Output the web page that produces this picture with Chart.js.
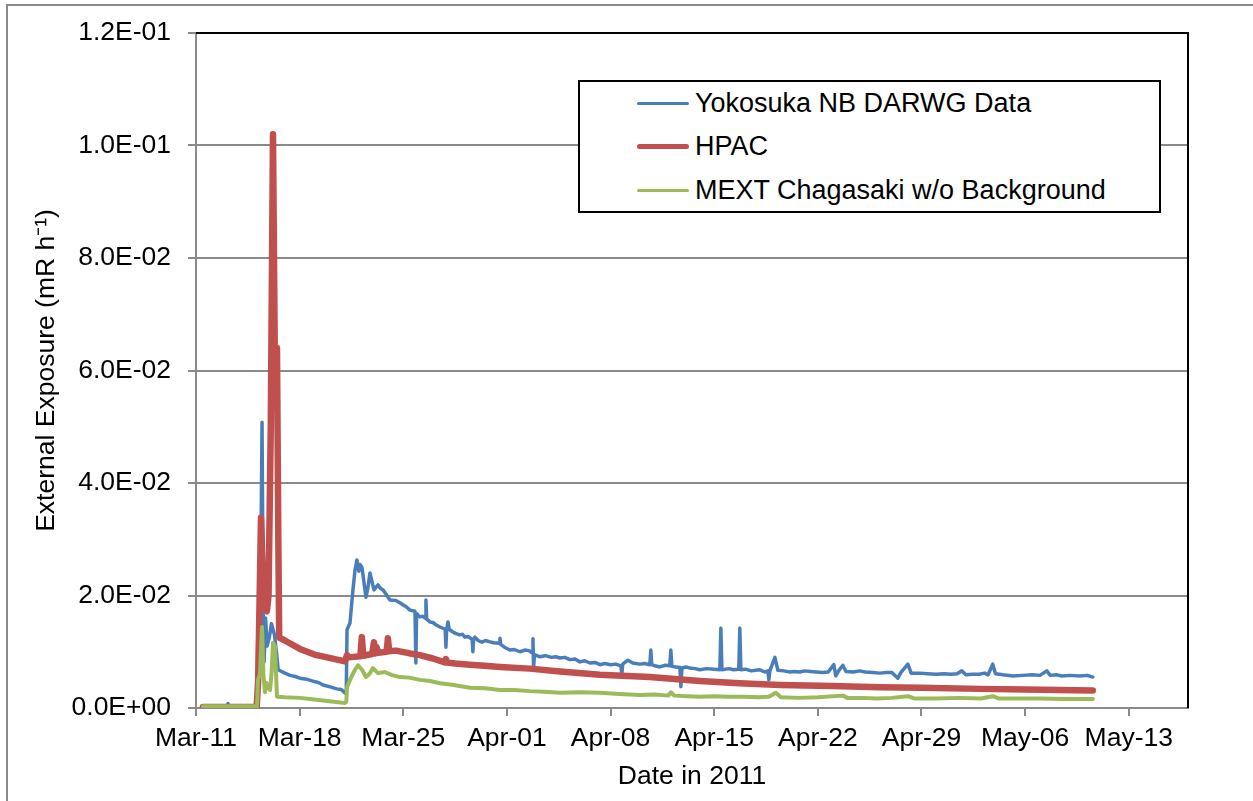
<!DOCTYPE html>
<html><head><meta charset="utf-8">
<script src="https://cdn.jsdelivr.net/npm/chart.js@4.4.1/dist/chart.umd.min.js"></script>
<style>
html,body{margin:0;padding:0;background:#fff;overflow:hidden;}
#wrap{position:relative;width:1253px;height:801px;overflow:hidden;}
#frame{position:absolute;left:6px;top:4px;width:1300px;height:850px;border:2px solid #8a8a8a;box-sizing:border-box;pointer-events:none;}
canvas{position:absolute;left:0;top:0;}
#legend{position:absolute;left:578px;top:80px;width:583px;height:133px;border:2px solid #000;background:#fff;box-sizing:border-box;font-family:"Liberation Sans",Arial,sans-serif;font-size:27px;color:#000;}
.item{position:absolute;left:57px;height:32px;display:flex;align-items:center;white-space:nowrap;}
.sw{width:52px;border-radius:3px;margin-right:6px;}
</style></head>
<body>
<div id="wrap">
<canvas id="c" width="1253" height="801"></canvas>
<div id="frame"></div>
<div id="legend"></div>
</div>
<script>
// ---- Data (x = days since Mar-11-2011 00:00, y = mR/h) ----
const seriesNames = ['Yokosuka NB DARWG Data', 'HPAC', 'MEXT Chagasaki w/o Background'];
const seriesColors = ['#4a7ebb', '#c0504d', '#9bbb59'];
const xTickDays = [0, 7, 14, 21, 28, 35, 42, 49, 56, 63];
const xTickLabels = ['Mar-11', 'Mar-18', 'Mar-25', 'Apr-01', 'Apr-08', 'Apr-15', 'Apr-22', 'Apr-29', 'May-06', 'May-13'];
const yTickValues = [0, 0.02, 0.04, 0.06, 0.08, 0.10, 0.12];
const yTickLabels = ['0.0E+00', '2.0E-02', '4.0E-02', '6.0E-02', '8.0E-02', '1.0E-01', '1.2E-01'];

const yokosuka = [[0.47,0.0003],[2.10,0.0003],[2.16,0.0008],[2.22,0.0003],[4.10,0.0003],[4.19,0.0156],[4.35,0.0170],[4.46,0.0508],[4.55,0.0120],[4.60,0.0082],[4.70,0.0160],[4.80,0.0110],[4.95,0.0125],[5.10,0.0150],[5.30,0.0130],[5.45,0.0095],[5.55,0.0068],[6.00,0.0062],[6.35,0.0058],[6.70,0.0056],[7.02,0.0053],[7.50,0.0051],[8.00,0.0047],[8.30,0.0045],[8.58,0.0041],[9.00,0.0038],[9.50,0.0034],[9.80,0.0033],[10.06,0.0027],[10.15,0.0030],[10.20,0.0139],[10.40,0.0151],[10.60,0.0210],[10.74,0.0245],[10.87,0.0263],[11.00,0.0243],[11.07,0.0255],[11.21,0.0250],[11.48,0.0197],[11.60,0.0212],[11.75,0.0240],[12.02,0.0210],[12.29,0.0219],[12.45,0.0213],[12.63,0.0210],[12.90,0.0200],[13.10,0.0192],[13.50,0.0191],[13.77,0.0187],[14.00,0.0183],[14.20,0.0180],[14.45,0.0174],[14.79,0.0172],[14.85,0.0080],[14.90,0.0168],[15.12,0.0162],[15.30,0.0163],[15.48,0.0160],[15.53,0.0192],[15.58,0.0158],[15.80,0.0153],[16.00,0.0152],[16.20,0.0148],[16.48,0.0144],[16.83,0.0140],[16.88,0.0108],[16.93,0.0140],[17.02,0.0153],[17.10,0.0140],[17.30,0.0136],[17.49,0.0133],[17.80,0.0130],[18.00,0.0131],[18.16,0.0126],[18.40,0.0127],[18.65,0.0122],[18.70,0.0100],[18.75,0.0122],[18.84,0.0126],[19.05,0.0120],[19.31,0.0117],[19.55,0.0120],[19.80,0.0118],[20.10,0.0116],[20.48,0.0115],[20.53,0.0124],[20.58,0.0113],[20.90,0.0107],[21.20,0.0103],[21.50,0.0104],[21.88,0.0100],[22.20,0.0103],[22.50,0.0102],[22.70,0.0098],[22.76,0.0123],[22.80,0.0071],[22.86,0.0095],[23.23,0.0091],[23.60,0.0093],[24.00,0.0090],[24.30,0.0091],[24.58,0.0089],[24.90,0.0090],[25.25,0.0086],[25.60,0.0087],[25.93,0.0082],[26.25,0.0084],[26.60,0.0080],[26.95,0.0081],[27.28,0.0077],[27.60,0.0079],[28.00,0.0077],[28.35,0.0078],[28.70,0.0075],[28.76,0.0059],[28.82,0.0078],[29.17,0.0085],[29.50,0.0080],[29.98,0.0078],[30.30,0.0079],[30.65,0.0077],[30.72,0.0103],[30.78,0.0077],[31.00,0.0075],[31.33,0.0073],[31.70,0.0076],[32.00,0.0075],[32.07,0.0103],[32.14,0.0074],[32.40,0.0073],[32.68,0.0072],[32.75,0.0038],[32.82,0.0071],[33.10,0.0073],[33.36,0.0071],[33.70,0.0070],[34.03,0.0068],[34.50,0.0070],[35.00,0.0069],[35.38,0.0068],[35.45,0.0142],[35.52,0.0068],[36.00,0.0070],[36.30,0.0068],[36.66,0.0069],[36.73,0.0142],[36.80,0.0068],[37.10,0.0069],[37.50,0.0066],[37.80,0.0067],[38.08,0.0068],[38.40,0.0064],[38.62,0.0066],[38.69,0.0050],[38.76,0.0066],[39.10,0.0090],[39.30,0.0067],[39.70,0.0066],[40.11,0.0064],[40.40,0.0065],[40.78,0.0064],[41.10,0.0066],[41.50,0.0065],[41.90,0.0064],[42.30,0.0063],[42.70,0.0064],[43.08,0.0077],[43.21,0.0057],[43.40,0.0066],[43.69,0.0076],[43.90,0.0065],[44.40,0.0064],[44.83,0.0066],[45.20,0.0064],[45.70,0.0063],[46.19,0.0062],[46.60,0.0063],[47.00,0.0063],[47.40,0.0053],[47.60,0.0063],[48.08,0.0078],[48.30,0.0062],[48.89,0.0062],[49.40,0.0061],[50.00,0.0060],[50.50,0.0061],[51.00,0.0060],[51.40,0.0061],[51.72,0.0066],[52.00,0.0059],[52.46,0.0060],[52.90,0.0060],[53.27,0.0062],[53.50,0.0059],[53.81,0.0078],[54.00,0.0061],[54.50,0.0059],[55.17,0.0057],[55.80,0.0058],[56.50,0.0059],[57.00,0.0058],[57.46,0.0066],[57.70,0.0058],[58.10,0.0059],[58.50,0.0057],[59.00,0.0058],[59.69,0.0057],[60.20,0.0058],[60.57,0.0055]];

const hpac = [[0.47,0.0002],[4.10,0.0002],[4.20,0.0050],[4.39,0.0338],[4.50,0.0250],[4.65,0.0180],[4.79,0.0172],[4.90,0.0200],[5.05,0.0500],[5.20,0.1020],[5.33,0.0600],[5.47,0.0640],[5.56,0.0300],[5.62,0.0125],[6.00,0.0120],[7.02,0.0105],[8.00,0.0095],[9.00,0.0089],[10.06,0.0083],[10.20,0.0094],[10.30,0.0090],[11.10,0.0092],[11.20,0.0126],[11.30,0.0093],[11.90,0.0096],[12.02,0.0117],[12.12,0.0097],[12.20,0.0108],[12.30,0.0098],[12.88,0.0100],[12.96,0.0124],[13.05,0.0101],[13.50,0.0102],[14.45,0.0097],[15.12,0.0094],[16.00,0.0088],[16.81,0.0081],[16.88,0.0087],[16.95,0.0081],[17.50,0.0079],[18.50,0.0077],[19.50,0.0075],[20.53,0.0073],[22.55,0.0070],[24.58,0.0065],[27.28,0.0059],[30.65,0.0055],[34.03,0.0048],[36.70,0.0044],[39.43,0.0041],[43.00,0.0039],[46.19,0.0037],[49.00,0.0036],[52.94,0.0034],[56.00,0.0033],[60.57,0.0031]];

const mext = [[0.47,0.0003],[4.12,0.0003],[4.19,0.0050],[4.32,0.0060],[4.46,0.0144],[4.55,0.0060],[4.66,0.0028],[4.75,0.0045],[4.86,0.0036],[5.00,0.0032],[5.10,0.0060],[5.20,0.0116],[5.33,0.0110],[5.47,0.0020],[6.00,0.0019],[7.02,0.0018],[8.00,0.0015],[9.00,0.0012],[10.06,0.0009],[10.15,0.0011],[10.20,0.0037],[10.40,0.0050],[10.74,0.0068],[10.94,0.0076],[11.21,0.0068],[11.48,0.0055],[11.70,0.0060],[11.95,0.0071],[12.29,0.0062],[12.76,0.0064],[13.20,0.0059],[13.77,0.0055],[14.40,0.0054],[15.12,0.0050],[15.80,0.0048],[16.48,0.0044],[17.40,0.0041],[18.50,0.0036],[19.50,0.0035],[20.53,0.0032],[21.50,0.0032],[22.55,0.0030],[23.50,0.0029],[24.58,0.0027],[25.90,0.0028],[27.28,0.0027],[28.60,0.0025],[29.98,0.0023],[31.00,0.0024],[31.90,0.0022],[32.07,0.0028],[32.30,0.0022],[33.20,0.0021],[34.03,0.0020],[35.00,0.0021],[36.00,0.0020],[37.00,0.0020],[38.00,0.0019],[38.70,0.0020],[39.16,0.0027],[39.50,0.0019],[40.78,0.0018],[42.00,0.0019],[43.69,0.0022],[44.00,0.0018],[45.00,0.0018],[46.00,0.0017],[47.00,0.0018],[48.08,0.0021],[48.50,0.0017],[50.00,0.0017],[51.50,0.0018],[53.00,0.0017],[53.81,0.0021],[54.20,0.0017],[55.50,0.0017],[57.00,0.0017],[58.60,0.0016],[60.57,0.0016]];

const FONT = '"Liberation Sans", Arial, sans-serif';
const FS = 26.5;
const toPts = arr => arr.map(p => ({x: p[0], y: p[1]}));

const plotFrame = {
  id: 'plotFrame',
  afterDraw(chart) {
    const {ctx, chartArea: a} = chart;
    ctx.save();
    ctx.strokeStyle = '#000';
    ctx.lineWidth = 2;
    ctx.beginPath();
    ctx.moveTo(a.left, a.top);
    ctx.lineTo(a.right, a.top);
    ctx.lineTo(a.right, a.bottom);
    ctx.stroke();
    ctx.restore();
  }
};

new Chart(document.getElementById('c'), {
  type: 'line',
  data: {
    datasets: [
      {label: seriesNames[0], data: toPts(yokosuka), borderColor: seriesColors[0], borderWidth: 3.5, order: 2},
      {label: seriesNames[1], data: toPts(hpac), borderColor: seriesColors[1], borderWidth: 6.5, order: 1},
      {label: seriesNames[2], data: toPts(mext), borderColor: seriesColors[2], borderWidth: 4, order: 0}
    ]
  },
  options: {
    responsive: false,
    animation: false,
    elements: {
      point: {radius: 0},
      line: {tension: 0, borderCapStyle: 'round', borderJoinStyle: 'round', fill: false}
    },
    layout: {padding: {left: 27, right: 65, top: 33, bottom: 4}},
    plugins: {legend: {display: false}, tooltip: {enabled: false}},
    scales: {
      x: {
        type: 'linear', min: 0, max: 67,
        afterBuildTicks: s => { s.ticks = xTickDays.map(v => ({value: v})); },
        afterFit: s => { s.height = 89; },
        ticks: {
          autoSkip: false, maxRotation: 0, padding: 7, color: '#000',
          font: {family: FONT, size: FS},
          callback: (v, i) => xTickLabels[i]
        },
        grid: {drawOnChartArea: false, color: '#8a8a8a', lineWidth: 2, tickLength: 8},
        border: {color: '#8a8a8a', width: 2},
        title: {display: true, text: 'Date in 2011', color: '#000', font: {family: FONT, size: FS}, padding: {top: 4, bottom: 4}}
      },
      y: {
        type: 'linear', min: 0, max: 0.12,
        afterBuildTicks: s => { s.ticks = yTickValues.map(v => ({value: v})); },
        afterFit: s => { s.width = 169; },
        ticks: {
          padding: 17, color: '#000',
          font: {family: FONT, size: FS},
          callback: (v, i) => yTickLabels[i]
        },
        grid: {color: '#8a8a8a', lineWidth: 2, tickLength: 8},
        border: {color: '#8a8a8a', width: 2},
        title: {display: true, text: 'External Exposure (mR h\u207B\u00B9)', color: '#000', font: {family: FONT, size: FS}, padding: {top: 4, bottom: 4}}
      }
    }
  },
  plugins: [plotFrame]
});

// legend (HTML)
const leg = document.getElementById('legend');
const legendRowsY = [21, 64, 108];
const swatchH = [3, 5, 3];
seriesNames.forEach((n, i) => {
  const d = document.createElement('div');
  d.className = 'item';
  d.style.top = (legendRowsY[i] - 16) + 'px';
  const s = document.createElement('span');
  s.className = 'sw';
  s.style.height = swatchH[i] + 'px';
  s.style.background = seriesColors[i];
  const t = document.createElement('span');
  t.textContent = n;
  d.appendChild(s); d.appendChild(t);
  leg.appendChild(d);
});
</script>
</body></html>
